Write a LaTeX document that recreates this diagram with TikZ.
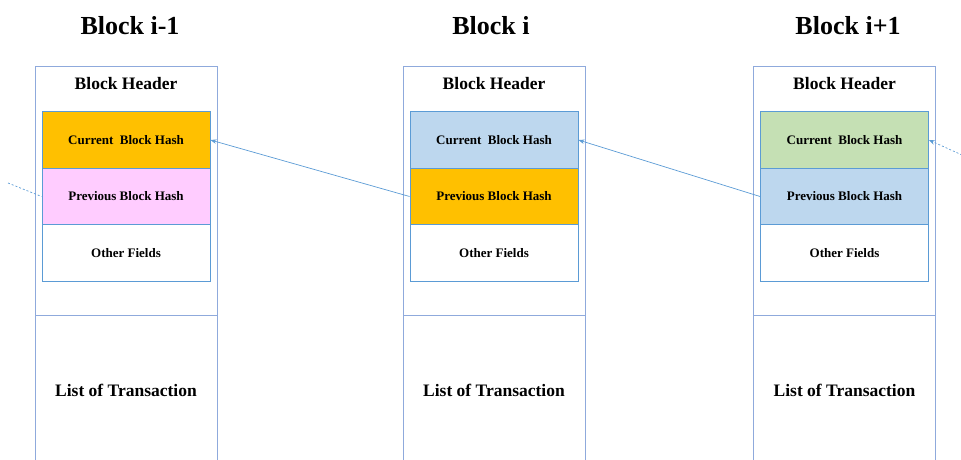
\documentclass[tikz,border=0pt]{standalone}
\usepackage{fontspec}
\setmainfont{Liberation Serif}[BoldFont={Liberation Serif Bold}]
\usetikzlibrary{arrows.meta}
\definecolor{lineblue}{HTML}{5B9BD5}
\definecolor{paleblue}{HTML}{8FAADC}
\definecolor{hashorange}{HTML}{FFC000}
\definecolor{hashpink}{HTML}{FFCCFF}
\definecolor{hashblue}{HTML}{BDD7EE}
\definecolor{hashgreen}{HTML}{C5E0B4}
\tikzset{
  outerbox/.style={draw=paleblue, line width=1pt, minimum width=182pt, inner sep=0pt},
  field/.style={draw=lineblue, line width=0.9pt, minimum width=168pt, minimum height=56.5pt, inner sep=0pt,
    font=\rmfamily\fontsize{13}{14}\selectfont\bfseries},
  titletext/.style={font=\rmfamily\fontsize{26}{28}\selectfont\bfseries},
  headtext/.style={font=\rmfamily\fontsize{17.5}{18}\selectfont\bfseries},
  listtext/.style={font=\rmfamily\fontsize{17.5}{18}\selectfont\bfseries},
  link/.style={draw=lineblue, line width=0.7pt, -{Stealth[length=6pt,width=4.5pt]}},
  dashlink/.style={draw=lineblue, line width=0.7pt, dash pattern=on 2pt off 2pt}
}
\begin{document}
\begin{tikzpicture}[x=1pt,y=-1pt]
\useasboundingbox (0,0) rectangle (961,460);
\clip (0,0) rectangle (961,460);
% Block i-1
\node[titletext] (tA) at (130,26) {Block i-1};
\node[outerbox, minimum height=248pt] (hdrA) at (126,191) {};
\node[outerbox, minimum height=155pt] (lstA) at (126,392.5) {};
\node[headtext] (hA) at (126,84) {Block Header};
\node[field, fill=hashorange] (curA) at (126,140) {Current\ \ Block Hash};
\node[field, fill=hashpink] (prevA) at (126,196.5) {Previous Block Hash};
\node[field, fill=white] (othA) at (126,253) {Other Fields};
\node[listtext] (lA) at (126,390) {List of Transaction};
% Block i
\node[titletext] (tB) at (491,26) {Block i};
\node[outerbox, minimum height=248pt] (hdrB) at (494,191) {};
\node[outerbox, minimum height=155pt] (lstB) at (494,392.5) {};
\node[headtext] (hB) at (494,84) {Block Header};
\node[field, fill=hashblue] (curB) at (494,140) {Current\ \ Block Hash};
\node[field, fill=hashorange] (prevB) at (494,196.5) {Previous Block Hash};
\node[field, fill=white] (othB) at (494,253) {Other Fields};
\node[listtext] (lB) at (494,390) {List of Transaction};
% Block i+1
\node[titletext] (tC) at (848,26) {Block i+1};
\node[outerbox, minimum height=248pt] (hdrC) at (844.5,191) {};
\node[outerbox, minimum height=155pt] (lstC) at (844.5,392.5) {};
\node[headtext] (hC) at (844.5,84) {Block Header};
\node[field, fill=hashgreen] (curC) at (844.5,140) {Current\ \ Block Hash};
\node[field, fill=hashblue] (prevC) at (844.5,196.5) {Previous Block Hash};
\node[field, fill=white] (othC) at (844.5,253) {Other Fields};
\node[listtext] (lC) at (844.5,390) {List of Transaction};
% links
\coordinate (lftend) at (8,183);
\coordinate (rgtend) at (962,155);
\draw[dashlink] (lftend) -- (prevA.west);
\draw[link] (prevB.west) -- (curA.east);
\draw[link] (prevC.west) -- (curB.east);
\draw[link, dash pattern=on 2pt off 2pt] (rgtend) -- (curC.east);
\end{tikzpicture}
\end{document}
